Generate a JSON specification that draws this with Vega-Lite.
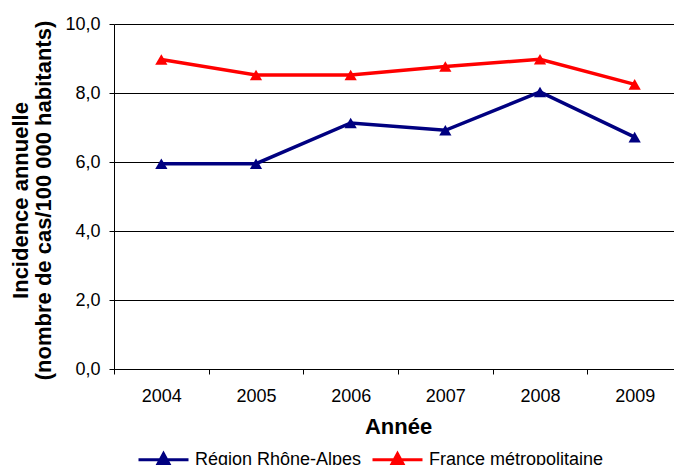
{
  "$schema": "https://vega.github.io/schema/vega-lite/v6.json",
  "autosize": {"type": "none"},
  "padding": {"left": 114, "top": 24, "right": 0, "bottom": 96},
  "width": 568,
  "height": 345,
  "background": "white",
  "config": {
    "view": {"stroke": null},
    "font": "Liberation Sans"
  },
  "data": {
    "values": [
      {"year": "2004", "series": "Région Rhône-Alpes", "value": 5.95},
      {"year": "2005", "series": "Région Rhône-Alpes", "value": 5.95},
      {"year": "2006", "series": "Région Rhône-Alpes", "value": 7.13},
      {"year": "2007", "series": "Région Rhône-Alpes", "value": 6.92},
      {"year": "2008", "series": "Région Rhône-Alpes", "value": 8.03},
      {"year": "2009", "series": "Région Rhône-Alpes", "value": 6.72},
      {"year": "2004", "series": "France métropolitaine", "value": 8.97},
      {"year": "2005", "series": "France métropolitaine", "value": 8.52},
      {"year": "2006", "series": "France métropolitaine", "value": 8.52},
      {"year": "2007", "series": "France métropolitaine", "value": 8.77},
      {"year": "2008", "series": "France métropolitaine", "value": 8.98},
      {"year": "2009", "series": "France métropolitaine", "value": 8.25}
    ]
  },
  "encoding": {
    "x": {
      "field": "year",
      "type": "ordinal",
      "bandPosition": 0.5,
      "scale": {"type": "band", "paddingInner": 0, "paddingOuter": 0},
      "axis": {
        "title": "Année",
        "titleFont": "Liberation Sans",
        "titleFontSize": 22,
        "titleFontWeight": "bold",
        "titleColor": "#000",
        "titleBaseline": "alphabetic",
        "titleY": 64,
        "labelAngle": 0,
        "labelFont": "Liberation Sans",
        "labelFontSize": 18,
        "labelColor": "#000",
        "labelPadding": 13,
        "tickBand": "extent",
        "tickSize": 5,
        "tickColor": "#000",
        "domainColor": "#000",
        "grid": false
      }
    },
    "y": {
      "field": "value",
      "type": "quantitative",
      "scale": {"domain": [0, 10], "nice": false},
      "axis": {
        "values": [0, 2, 4, 6, 8, 10],
        "title": ["Incidence annuelle", "(nombre de cas/100 000 habitants)"],
        "titleFont": "Liberation Sans",
        "titleFontSize": 22,
        "titleFontWeight": "bold",
        "titleColor": "#000",
        "titleLineHeight": 23,
        "titleAngle": -90,
        "titleAlign": "center",
        "titleBaseline": "middle",
        "titleX": -94,
        "titleY": 176,
        "titleLimit": 1000,
        "labelExpr": "replace(format(datum.value, '.1f'), '.', ',')",
        "labelFont": "Liberation Sans",
        "labelFontSize": 18,
        "labelColor": "#000",
        "labelPadding": 9,
        "tickSize": 5,
        "tickColor": "#000",
        "domainColor": "#000",
        "grid": true,
        "gridColor": "#000",
        "gridOpacity": 1,
        "gridWidth": 1
      }
    },
    "color": {
      "field": "series",
      "type": "nominal",
      "scale": {"domain": ["Région Rhône-Alpes", "France métropolitaine"], "range": ["#000080", "#FF0000"]},
      "legend": {
        "title": null,
        "orient": "none",
        "direction": "horizontal",
        "legendX": 23,
        "legendY": 409,
        "padding": 0,
        "columnPadding": 4,
        "labelOffset": 5,
        "labelFont": "Liberation Sans",
        "labelFontSize": 18,
        "labelColor": "#000",
        "labelLimit": 400,
        "symbolType": "M-1,0H1M-0.24,0.2L0,-0.24L0.24,0.2Z",
        "symbolSize": 2500,
        "symbolStrokeWidth": 3,
        "encode": {
          "symbols": {
            "update": {
              "fill": {"scale": "color", "field": "value"},
              "stroke": {"scale": "color", "field": "value"},
              "opacity": {"value": 1}
            }
          }
        }
      }
    }
  },
  "layer": [
    {"mark": {"type": "line", "strokeWidth": 3.5}},
    {"mark": {"type": "point", "shape": "triangle-up", "filled": true, "size": 150, "opacity": 1}}
  ]
}
